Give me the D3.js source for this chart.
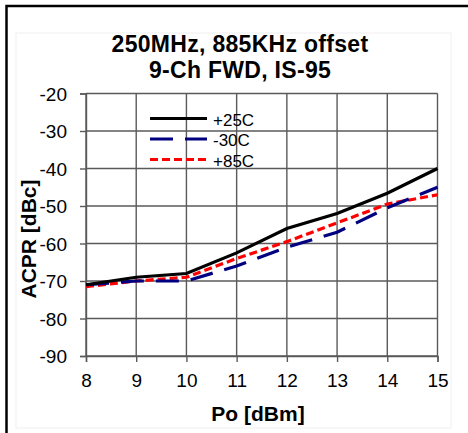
<!DOCTYPE html>
<html><head><meta charset="utf-8">
<script src="https://cdn.jsdelivr.net/npm/d3@7"></script>
<style>html,body{margin:0;padding:0;background:#fff;}svg{display:block;}</style>
</head><body>
<script>
const xValues = [8, 9, 10, 11, 12, 13, 14, 15];
const seriesNames = ["+25C", "-30C", "+85C"];
const acpr25 = [-71, -69, -68, -62.5, -56, -52, -46.6, -40];
const acprM30 = [-71, -70, -70, -66, -61, -57, -50.5, -45];
const acpr85 = [-71.5, -70, -69, -64, -59.5, -54.5, -49.5, -47];
const xTicks = [8, 9, 10, 11, 12, 13, 14, 15];
const yTicks = [-90, -80, -70, -60, -50, -40, -30, -20];
const titleLines = ["250MHz, 885KHz offset", "9-Ch FWD, IS-95"];
const xLabel = "Po [dBm]";
const yLabel = "ACPR [dBc]";

const W = 468, H = 433;
const svg = d3.select("body").append("svg").attr("width", W).attr("height", H);
const font = "'Liberation Sans', Arial, sans-serif";

// faint inner chart area box
svg.append("rect").attr("x", 16).attr("y", 33).attr("width", 435).attr("height", 395)
  .attr("fill", "none").attr("stroke", "#f0f0f0").attr("stroke-width", 1);
// outer frame (top & left visible)
svg.append("path").attr("d", "M6.5,433 V6 H468").attr("fill", "none")
  .attr("stroke", "#000").attr("stroke-width", 2.5);

const x = d3.scaleLinear().domain([8, 15]).range([86, 437.5]);
const y = d3.scaleLinear().domain([-90, -20]).range([356, 93.5]);

const gridColor = "#5a5a5a";
// grid
const grid = svg.append("g");
grid.selectAll("line.v").data(xTicks).join("line")
  .attr("x1", d => x(d)).attr("x2", d => x(d)).attr("y1", y(-20)).attr("y2", y(-90))
  .attr("stroke", gridColor).attr("stroke-width", 1.4);
grid.selectAll("line.h").data(yTicks).join("line")
  .attr("x1", x(8)).attr("x2", x(15)).attr("y1", d => y(d)).attr("y2", d => y(d))
  .attr("stroke", gridColor).attr("stroke-width", 1.4);

// axes
const xAxis = svg.append("g").attr("transform", `translate(0,${y(-90)})`)
  .call(d3.axisBottom(x).tickValues(xTicks).tickFormat(d3.format("d")).tickSize(6).tickPadding(12));
const yAxis = svg.append("g").attr("transform", `translate(${x(8)},0)`)
  .call(d3.axisLeft(y).tickValues(yTicks).tickFormat(d => d).tickSize(6).tickPadding(13));
[xAxis, yAxis].forEach(a => {
  a.select(".domain").attr("stroke", gridColor).attr("stroke-width", 1.4);
  a.selectAll(".tick line").attr("stroke", gridColor).attr("stroke-width", 1.4);
  a.selectAll(".tick text").attr("fill", "#000").style("font-family", font).style("font-size", "19px");
});
yAxis.selectAll(".tick text").attr("dy", "0.36em");

// series
const series = [
  {name: seriesNames[0], vals: acpr25, color: "#000000", dash: null},
  {name: seriesNames[1], vals: acprM30, color: "#000080", dash: "23,12"},
  {name: seriesNames[2], vals: acpr85, color: "#ff0000", dash: "8,4"}
];
const line = d3.line().x((d, i) => x(xValues[i])).y(d => y(d));
series.slice().reverse().forEach(s => {
  svg.append("path").attr("d", line(s.vals)).attr("fill", "none")
    .attr("stroke", s.color).attr("stroke-width", 3.2)
    .attr("stroke-dasharray", s.dash);
});

// legend
const leg = svg.append("g");
series.forEach((s, i) => {
  const ly = 118.5 + i * 20.5;
  leg.append("line").attr("x1", 150).attr("x2", 207).attr("y1", ly).attr("y2", ly)
    .attr("stroke", s.color).attr("stroke-width", 3.2).attr("stroke-dasharray", s.dash);
  leg.append("text").attr("x", 213).attr("y", ly + 1).attr("dy", "0.36em")
    .style("font-family", font).style("font-size", "17px").text(s.name);
});

// title
svg.append("text").attr("x", 240).attr("y", 51.5).attr("text-anchor", "middle")
  .style("font-family", font).style("font-size", "23px").style("font-weight", "bold")
  .style("letter-spacing", "0.3px").text(titleLines[0]);
svg.append("text").attr("x", 240).attr("y", 78).attr("text-anchor", "middle")
  .style("font-family", font).style("font-size", "23px").style("font-weight", "bold")
  .style("letter-spacing", "0.3px").text(titleLines[1]);

// axis titles
svg.append("text").attr("x", 258).attr("y", 421).attr("text-anchor", "middle")
  .style("font-family", font).style("font-size", "21px").style("font-weight", "bold").text(xLabel);
svg.append("text").attr("transform", "translate(36,239) rotate(-90)").attr("text-anchor", "middle")
  .style("font-family", font).style("font-size", "21px").style("font-weight", "bold").text(yLabel);
</script>
</body></html>
